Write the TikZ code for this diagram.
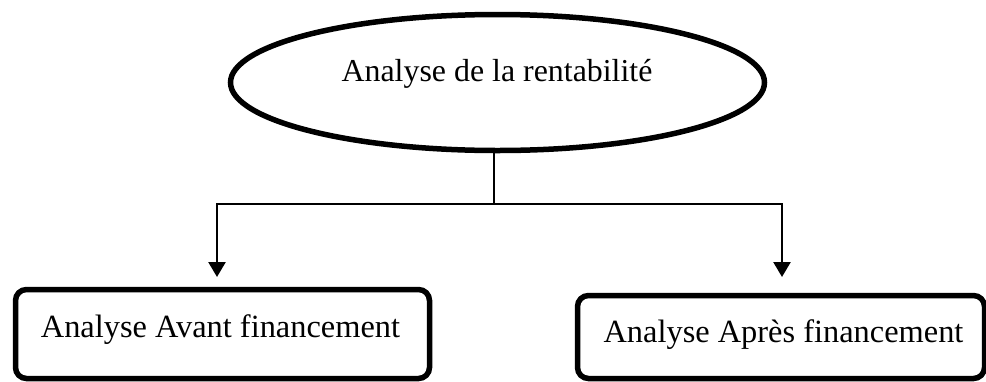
\documentclass[tikz,border=0pt]{standalone}
\usepackage{fontspec}
\setmainfont{Liberation Serif}
\usetikzlibrary{shapes.geometric,arrows.meta}

\tikzset{
  heading/.style={ellipse, draw, line width=5.5pt, inner sep=0pt,
                  minimum width=534pt, minimum height=136pt},
  branch/.style={rectangle, draw, line width=5.5pt, rounded corners=11pt, inner sep=0pt},
  caption/.style={anchor=base, inner sep=0pt, font=\fontsize{32.4}{38}\selectfont},
  link/.style={line width=2.5pt},
  linkarrow/.style={link, -{Triangle[length=15pt,width=17pt]}},
}

\begin{document}
\begin{tikzpicture}[x=1pt,y=-1pt]
  \useasboundingbox (0,0) rectangle (986,381);

  % top ellipse and its title
  \node[heading] (ell) at (497.5,82.5) {};
  \node[caption, font=\fontsize{31.9}{38}\selectfont] (elltext) at (497,81) {Analyse de la rentabilité};

  % the two branches
  \node[branch, minimum width=414pt, minimum height=89pt] (left) at (222.5,334) {};
  \node[caption] (lefttext) at (220.5,337) {Analyse Avant financement};

  \node[branch, minimum width=407pt, minimum height=83pt] (right) at (781,337) {};
  \node[caption] (righttext) at (783.5,342) {Analyse Après financement};

  % connector points
  \coordinate (split) at (494,204);
  \coordinate (tipL) at (217,277);
  \coordinate (tipR) at (782,277);

  \draw[linkarrow] (split |- ell.south) -- (split) -| (tipL);
  \draw[linkarrow] (split) -| (tipR);
\end{tikzpicture}
\end{document}
